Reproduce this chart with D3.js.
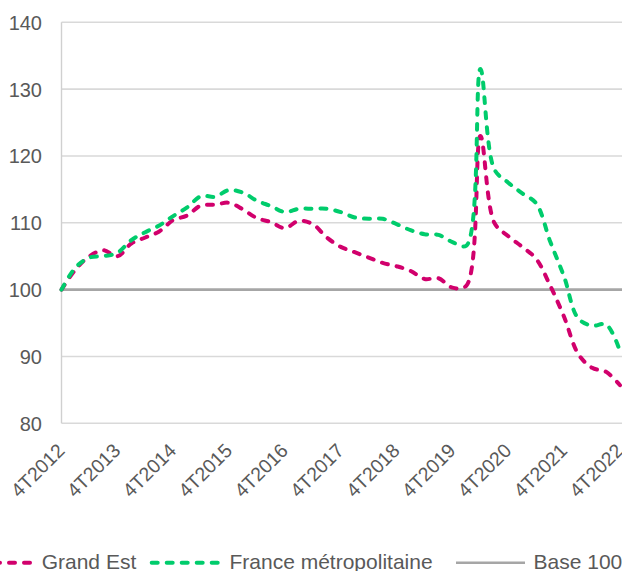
<!DOCTYPE html>
<html>
<head>
<meta charset="utf-8">
<script src="https://cdn.jsdelivr.net/npm/d3@7"></script>
<style>
  html, body { margin: 0; padding: 0; background: #ffffff; }
  svg { display: block; }
  text { font-family: "Liberation Sans", Arial, sans-serif; fill: #595959; }
</style>
</head>
<body>
<svg id="chart" width="622" height="571"></svg>
<script>
const categories = [
  "4T2012","1T2013","2T2013","3T2013","4T2013","1T2014","2T2014","3T2014","4T2014",
  "1T2015","2T2015","3T2015","4T2015","1T2016","2T2016","3T2016","4T2016",
  "1T2017","2T2017","3T2017","4T2017","1T2018","2T2018","3T2018","4T2018",
  "1T2019","2T2019","3T2019","4T2019","1T2020","2T2020","3T2020","4T2020",
  "1T2021","2T2021","3T2021","4T2021","1T2022","2T2022","3T2022","4T2022"
];
const tickLabels = ["4T2012","4T2013","4T2014","4T2015","4T2016","4T2017","4T2018","4T2019","4T2020","4T2021","4T2022"];
const yTicks = [80, 90, 100, 110, 120, 130, 140];

const grandEst = [100, 103.0, 105.0, 105.9, 105.0, 106.9, 107.8, 108.7, 110.4, 111.1,
  112.6, 112.7, 113.0, 112.0, 110.7, 110.1, 109.2, 110.3, 109.8, 107.8,
  106.4, 105.6, 104.8, 104.0, 103.5, 102.8, 101.6, 101.7, 100.3, 100.6,
  123.0, 110.0, 108.0, 106.4, 104.6, 100.6, 95.9, 90.4, 88.3, 87.7, 85.7];
const franceMetro = [100, 103.3, 104.8, 105.0, 105.5, 107.4, 108.6, 109.6, 111.0, 112.3,
  114.0, 113.9, 114.9, 114.5, 113.3, 112.5, 111.6, 112.1, 112.1, 112.1,
  111.6, 110.8, 110.6, 110.6, 109.8, 108.9, 108.3, 108.2, 107.1, 106.6,
  133.0, 118.0, 116.0, 114.4, 112.9, 107.2, 101.9, 95.7, 94.6, 94.8, 90.8];
const baseValue = 100;

const seriesNames = ["Grand Est", "France métropolitaine", "Base 100"];
const colors = { ge: "#d1006c", fr: "#00cc6c", base: "#a6a6a6", grid: "#d9d9d9", axis: "#d0d0d0" };

const svg = d3.select("#chart");
const mLeft = 61.5, mRight = 620, mTop = 22.3, mBottom = 423.3;

const x = d3.scalePoint().domain(categories).range([mLeft, mRight]);
const y = d3.scaleLinear().domain([80, 140]).range([mBottom, mTop]);

// gridlines
svg.append("g").selectAll("line").data(yTicks.filter(v => v !== baseValue)).join("line")
  .attr("x1", mLeft).attr("x2", 622)
  .attr("y1", d => y(d)).attr("y2", d => y(d))
  .attr("stroke", colors.grid).attr("stroke-width", 1.6);

// left axis line
svg.append("line").attr("x1", mLeft).attr("x2", mLeft).attr("y1", mTop).attr("y2", mBottom)
  .attr("stroke", colors.axis).attr("stroke-width", 1.4);

// y axis labels
const yAxis = d3.axisLeft(y).tickValues(yTicks).tickSize(0).tickPadding(0);
const yg = svg.append("g").attr("transform", `translate(42,0)`).call(yAxis);
yg.select(".domain").remove();
yg.selectAll("text").attr("x", 0).attr("dy", "0.35em")
  .style("font-size", "20px").style("font-family", "'Liberation Sans', Arial, sans-serif")
  .attr("fill", "#595959");

// x axis labels
const xAxis = d3.axisBottom(x).tickValues(tickLabels).tickSize(0);
const xg = svg.append("g").call(xAxis);
xg.select(".domain").remove();
xg.selectAll(".tick").attr("transform", null);
xg.selectAll(".tick text")
  .attr("x", null).attr("y", null).attr("dy", "0.35em")
  .attr("text-anchor", "end")
  .attr("transform", d => `translate(${x(d) - 0.5},${447}) rotate(-45)`)
  .style("font-size", "19.5px").style("font-family", "'Liberation Sans', Arial, sans-serif")
  .attr("fill", "#595959");

// base 100 line
svg.append("line")
  .attr("x1", mLeft).attr("x2", 622).attr("y1", y(baseValue)).attr("y2", y(baseValue))
  .attr("stroke", colors.base).attr("stroke-width", 2.6);

const line = d3.line()
  .x((d, i) => x(categories[i]))
  .y(d => y(d))
  .curve(d3.curveCatmullRom.alpha(0.5));

function drawSeries(data, color) {
  svg.append("path").datum(data)
    .attr("d", line)
    .attr("fill", "none")
    .attr("stroke", color)
    .attr("stroke-width", 4)
    .attr("stroke-linecap", "round")
    .attr("stroke-dasharray", "6,9");
}
drawSeries(grandEst, colors.ge);
drawSeries(franceMetro, colors.fr);

// legend
const legendY = 562.7;
const legendTextY = 561.3;
const legendItems = [
  { name: seriesNames[0], x0: -36, x1: 33.7, tx: 41.7, color: colors.ge, dashed: true },
  { name: seriesNames[1], x0: 151.7, x1: 221, tx: 229.5, color: colors.fr, dashed: true },
  { name: seriesNames[2], x0: 456, x1: 525, tx: 533.5, color: colors.base, dashed: false }
];
const lg = svg.append("g");
legendItems.forEach(it => {
  const l = lg.append("line")
    .attr("x1", it.x0).attr("x2", it.x1).attr("y1", legendY).attr("y2", legendY)
    .attr("stroke", it.color);
  if (it.dashed) {
    l.attr("stroke-width", 4).attr("stroke-linecap", "round").attr("stroke-dasharray", "6,9");
  } else {
    l.attr("stroke-width", 2.6);
  }
  lg.append("text").attr("x", it.tx).attr("y", legendTextY).attr("dy", "0.35em")
    .style("font-size", "21px").attr("fill", "#595959").text(it.name);
});
</script>
</body>
</html>
